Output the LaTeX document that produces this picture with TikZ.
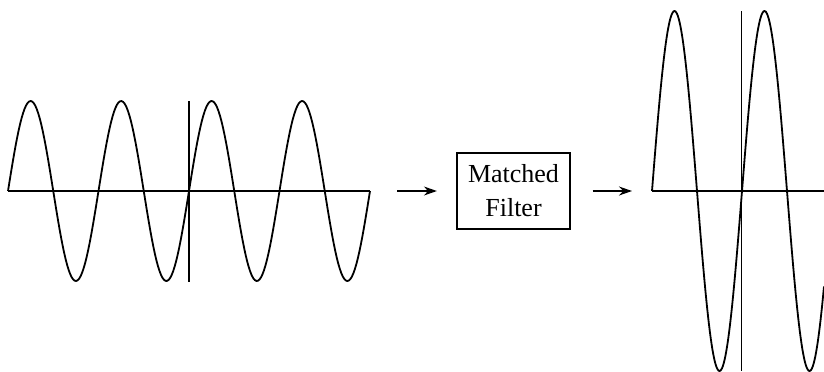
\documentclass[tikz,border=0pt]{standalone}
\usepackage{fontspec}
\setmainfont{Liberation Serif}
\usetikzlibrary{arrows.meta,positioning}

\begin{document}
\begin{tikzpicture}[
  x=0.5pt, y=-0.5pt,
  font=\fontsize{13}{17}\selectfont,
  box/.style={draw, line width=0.7pt, align=center, minimum width=56.5pt, minimum height=38pt, inner sep=2pt},
  wave/.style={line width=0.9pt, line join=round},
  axis/.style={line width=0.7pt},
  arr/.style={-{Stealth[length=6.5pt,width=4.5pt]}, line width=0.7pt}
]
\useasboundingbox (0,0) rectangle (824,371);
% input signal
\coordinate (inbeg) at (8,191);
\coordinate (inend) at (370,191);
\draw[axis] (inbeg) -- (inend);
\draw[axis] (189,101) -- (189,282);
\draw[wave] plot[domain=0:362, samples=240] (\x+8, {191-90*sin(3.9779*\x)});
% filter block
\node[box] (filter) at (513.5,191) {Matched\\Filter};
% output signal
\coordinate (outbeg) at (652,191);
\coordinate (outend) at (824,191);
\draw[axis] (outbeg) -- (outend);
\draw[axis] (741.5,11) -- (741.5,371);
\draw[wave] plot[domain=0:172, samples=200] (\x+652, {191-180*sin(4*\x)});

\draw[arr, shorten <=13.5pt, shorten >=9.7pt] (inend) -- (filter);
\draw[arr, shorten <=11pt, shorten >=10pt] (filter) -- (outbeg);
\end{tikzpicture}
\end{document}
